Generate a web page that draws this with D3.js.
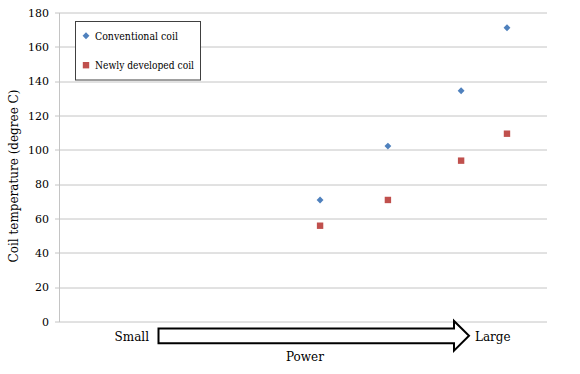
<!DOCTYPE html>
<html>
<head>
<meta charset="utf-8">
<script src="https://cdn.jsdelivr.net/npm/d3@7"></script>
<style>
  body { margin: 0; background: #fff; }
  text { font-family: "DejaVu Serif"; fill: #000; }
</style>
</head>
<body>
<svg id="chart" width="580" height="374"></svg>
<script>
// Data (power is a relative, unlabelled scale)
var power = [53.5, 67.4, 82.4, 91.8];
var conventional = [70.8, 102.2, 134.4, 171.1];
var newlyDeveloped = [55.8, 70.8, 93.7, 109.4];
var yTicks = [0, 20, 40, 60, 80, 100, 120, 140, 160, 180];
var seriesNames = ["Conventional coil", "Newly developed coil"];
var legendTextWidths = [83, 99];

var svg = d3.select("#chart");
var margin = {left: 59, right: 33, top: 12.5, bottom: 52.5};
var width = 580 - margin.left - margin.right,
	height = 374 - margin.top - margin.bottom;

var x = d3.scaleLinear().domain([0, 100]).range([0, width]);
var y = d3.scaleLinear().domain([0, 180]).range([height, 0]);

var g = svg.append("g")
	.attr("transform", "translate(" + margin.left + "," + margin.top + ")");

//Gridlines
g.selectAll(".grid")
	.data(yTicks)
	.enter()
	.append("line")
	.attr("x1", -4)
	.attr("x2", width)
	.attr("y1", function(d){ return Math.round(y(d)) + 0.5; })
	.attr("y2", function(d){ return Math.round(y(d)) + 0.5; })
	.attr("stroke", "#c4c4c4")
	.attr("stroke-width", 1);

//Left axis line
g.append("line")
	.attr("x1", 0.5).attr("x2", 0.5)
	.attr("y1", Math.round(y(180)) + 0.5)
	.attr("y2", Math.round(y(0)) + 0.5)
	.attr("stroke", "#c4c4c4");

//Tick labels
g.selectAll(".ytick")
	.data(yTicks)
	.enter()
	.append("text")
	.attr("x", -10)
	.attr("y", function(d){ return y(d) + 4; })
	.attr("text-anchor", "end")
	.style("font-size", "11px")
	.text(function(d){ return d; });

//Y title
svg.append("text")
	.attr("transform", "translate(18,176) rotate(-90)")
	.attr("text-anchor", "middle")
	.style("font-size", "12px")
	.text("Coil temperature (degree C)");

//Points
var conv = power.map(function(p, i){ return {x: p, y: conventional[i]}; });
var newly = power.map(function(p, i){ return {x: p, y: newlyDeveloped[i]}; });

g.selectAll(".conv")
	.data(conv)
	.enter()
	.append("path")
	.attr("d", d3.symbol().type(d3.symbolDiamond2).size(30))
	.attr("transform", function(d){ return "translate(" + x(d.x) + "," + y(d.y) + ")"; })
	.attr("fill", "#4f81bd");

g.selectAll(".newly")
	.data(newly)
	.enter()
	.append("rect")
	.attr("x", function(d){ return x(d.x) - 3.2; })
	.attr("y", function(d){ return y(d.y) - 3.2; })
	.attr("width", 6.4)
	.attr("height", 6.4)
	.attr("fill", "#c0504d");

//Legend
var legend = svg.append("g").attr("transform", "translate(75.5,21.5)");
legend.append("rect")
	.attr("width", 125)
	.attr("height", 58.5)
	.attr("fill", "#fff")
	.attr("stroke", "#404040")
	.attr("stroke-width", 1);
legend.append("path")
	.attr("d", d3.symbol().type(d3.symbolDiamond2).size(30))
	.attr("transform", "translate(10.5,14.2)")
	.attr("fill", "#4f81bd");
legend.append("rect")
	.attr("x", 7.3).attr("y", 40.5)
	.attr("width", 6.4).attr("height", 6.4)
	.attr("fill", "#c0504d");
legend.selectAll(".ltext")
	.data(seriesNames)
	.enter()
	.append("text")
	.attr("x", 19.5)
	.attr("y", function(d, i){ return 18 + i * 29.5; })
	.attr("textLength", function(d, i){ return legendTextWidths[i]; })
	.attr("lengthAdjust", "spacingAndGlyphs")
	.style("font-size", "11.5px")
	.text(function(d){ return d; });

//Power arrow
var arrow = [[158.5, 328.5], [454, 328.5], [454, 321], [469, 335.8], [454, 350.6], [454, 343.2], [158.5, 343.2]];
svg.append("polygon")
	.attr("points", arrow.map(function(p){ return p.join(","); }).join(" "))
	.attr("fill", "#fff")
	.attr("stroke", "#000")
	.attr("stroke-width", 2)
	.attr("stroke-linejoin", "miter");

svg.append("text")
	.attr("x", 149).attr("y", 340.5)
	.attr("text-anchor", "end")
	.style("font-size", "12px")
	.text("Small");
svg.append("text")
	.attr("x", 475).attr("y", 340.5)
	.style("font-size", "12px")
	.text("Large");
svg.append("text")
	.attr("x", 305).attr("y", 361)
	.attr("text-anchor", "middle")
	.style("font-size", "12px")
	.text("Power");
</script>
</body>
</html>
